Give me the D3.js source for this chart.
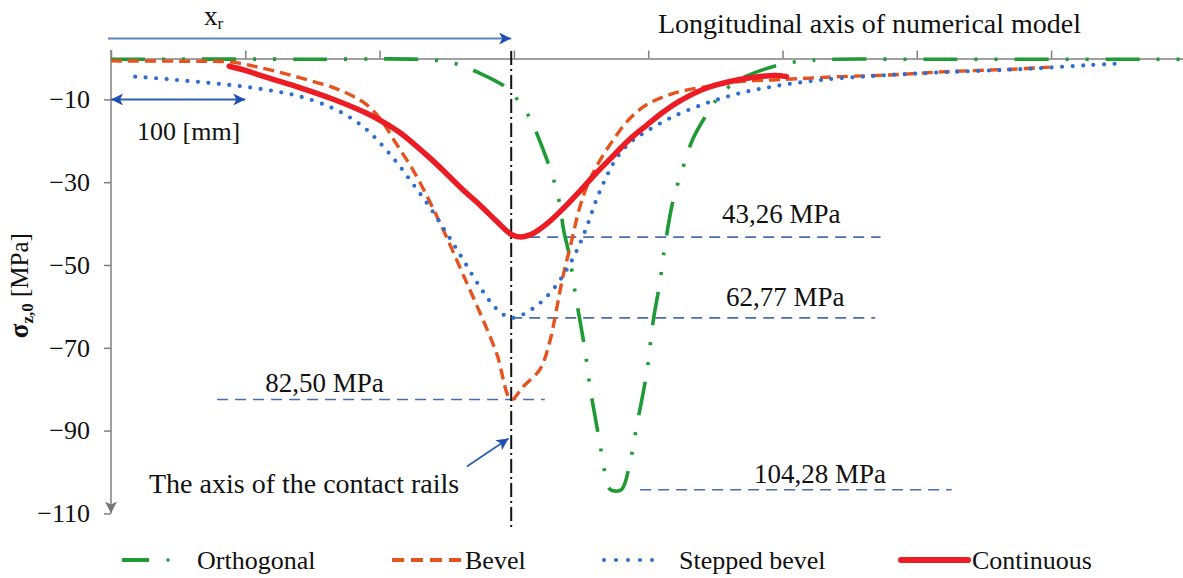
<!DOCTYPE html>
<html lang="en">
<head>
<meta charset="UTF-8">
<title>Stress along the longitudinal axis</title>
<script src="https://cdnjs.cloudflare.com/ajax/libs/d3/7.8.2/d3.min.js"></script>
<style>
    body { margin: 0; background: #fff; }
    svg { display: block; font-family: "Liberation Serif", "Times New Roman", serif; }
</style>
</head>
<body>
<div class="container"></div>
<script>
    // values: [position along the model in mm, stress in MPa]
    let orthogonal = [[0,-0.3],[150,-0.3],[240,-0.5],[258,-1.5],[272,-3.3],[295,-7.3],[304.5,-10.9],[312.4,-14.8],
        [318,-19],[326.8,-26.6],[331.1,-31.1],[334.3,-35.5],[337,-41.5],[341.5,-48],[346,-57.5],[352.9,-70.5],
        [356.6,-79.4],[361,-87.6],[365,-95],[368.5,-101.2],[372,-104.28],[380,-104.28],[386.3,-97.9],[391.3,-89.1],
        [398.8,-76.2],[403.7,-63.5],[408.6,-54.4],[412.4,-45.5],[418.6,-34.3],[424.9,-27.5],[433.5,-19.4],
        [447.2,-11.8],[454.7,-8.5],[466,-5.6],[478.1,-3.7],[503,-1.3],[530,-0.4],[600,-0.3],[800,-0.3]];

    let bevel = [[0,-0.7],[60,-0.8],[90,-1],[116,-2.7],[141,-4.8],[165,-7.1],[180,-9.2],[190,-11.2],[200,-14.5],
        [212,-20.5],[224.8,-27],[237.5,-34.8],[249.9,-43.3],[262,-52.2],[274.7,-61.5],[287.1,-71.3],[298,-82.5],
        [306.8,-79.4],[319.4,-75.2],[326.8,-68.4],[331.8,-60.6],[336.5,-52.8],[342,-45.5],[349.1,-36],[355,-30.5],
        [361.5,-26.2],[373.7,-19.9],[386.3,-14.6],[398.8,-11.3],[418.2,-8.6],[443.4,-6.9],[468.2,-5.7],[492.8,-5.3],
        [517.9,-4.9],[542.7,-4.5],[579.9,-4.1],[622,-3.3],[671.4,-2.7],[699,-2.2]];

    let steppedBevel = [[18,-4.5],[41.5,-5.1],[66,-5.8],[91,-6.6],[116,-7.7],[141,-9.3],[165,-12.1],[180,-14.8],
        [190,-17.2],[200,-20.4],[212.7,-25.2],[224.8,-30.4],[237.5,-36.1],[249.9,-42.3],[262,-48.6],[274.7,-55.3],
        [287.1,-60.6],[298,-62.77],[311.9,-61],[324.3,-57.7],[336.5,-52.6],[346.7,-46.6],[354.1,-40.9],[361.5,-34.2],
        [369,-28.6],[376.4,-24.2],[386.3,-20.5],[398.8,-17.7],[418.4,-14.2],[443.4,-10.9],[468.2,-8.5],[492.8,-6.9],
        [517.9,-5.7],[542.7,-4.9],[579.9,-4.1],[622,-3.4],[671.4,-2.8],[699,-2.3],[728.8,-1.7],[753.3,-1.3]];

    let continuous = [[88,-2],[100,-3],[116,-4.7],[141,-7.2],[165,-9.9],[190,-13.3],[205,-15.9],[215,-18],
        [225,-20.6],[238,-24.3],[250,-28],[262,-31.8],[275,-35.6],[287,-39.4],[298,-42.6],[305,-43.26],[313,-42.6],
        [324,-40.2],[336,-36.6],[349,-32.2],[361,-27.9],[374,-23.6],[386,-19.7],[399,-16.2],[411,-13.1],[424,-10.3],
        [443,-7.3],[468,-5.2],[485,-4.4],[495,-4.2],[503,-4.5]];

    let seriesNames = ['Orthogonal', 'Bevel', 'Stepped bevel', 'Continuous'];
    let yTicks = [-10, -30, -50, -70, -90, -110];
    let xTicks = [0, 100, 200, 300, 400, 500, 600, 700];

    // minimum markers: value, where the dashed line starts and ends (mm)
    let peakLabels = ['43,26 MPa', '62,77 MPa', '82,50 MPa', '104,28 MPa'];
    let peakValues = [-43.26, -62.77, -82.50, -104.28];
    let peakFrom = [298, 298, 79, 394];
    let peakTo = [573, 569, 323, 626];

    let railAxis = 298;

    let width = 1183;
    let height = 578;
    let font = '"Liberation Serif", "Times New Roman", serif';

    let styles = [
        {color: '#1f9b35', width: 3.6, dash: '34,17,3,17,3,17', cap: 'butt'},
        {color: '#e5531f', width: 3.4, dash: '11,6', cap: 'butt'},
        {color: '#2e6ed3', width: 4.2, dash: '0,10.5', cap: 'round'},
        {color: '#ec1c24', width: 5.5, dash: null, cap: 'round'}
    ];

    let svg = d3.select('.container').append('svg')
        .attr('width', width).attr('height', height);

    let xScale = d3.scaleLinear().domain([0, 800]).range([111, 1185.4]);
    let yScale = d3.scaleLinear().domain([0, -110]).range([58, 513.4]);

    let defs = svg.append('defs');
    const arrowMarker = (id, color, w, h) => {
        defs.append('marker').attr('id', id)
            .attr('viewBox', '0 0 10 10').attr('refX', 10).attr('refY', 5)
            .attr('markerWidth', w).attr('markerHeight', h)
            .attr('markerUnits', 'userSpaceOnUse')
            .attr('orient', 'auto-start-reverse')
            .append('path').attr('d', 'M0,0 L10,5 L0,10 L2.5,5 Z').attr('fill', color);
    };
    arrowMarker('blueArrow', '#1f4fb0', 16, 12);
    arrowMarker('greyArrow', '#777', 12, 12);

    // top axis (longitudinal axis of the model), ticks pointing up
    let xAxis = d3.axisTop(xScale).tickValues(xTicks).tickSize(8).tickSizeOuter(0).tickFormat('');
    let gx = svg.append('g').attr('transform', `translate(0,${yScale(0) + 0.5})`).call(xAxis);
    gx.selectAll('path, line').attr('stroke', '#808080').attr('stroke-width', 1.5);

    // left axis
    let yAxis = d3.axisLeft(yScale).tickValues(yTicks).tickSize(7).tickPadding(14);
    let gy = svg.append('g').attr('transform', `translate(${xScale(0)},0)`).call(yAxis);
    gy.select('.domain').remove();
    gy.selectAll('line').attr('stroke', '#808080').attr('stroke-width', 1.5);
    gy.selectAll('text').attr('font-family', font).attr('font-size', 26).attr('fill', '#111');
    svg.append('line')
        .attr('x1', xScale(0)).attr('x2', xScale(0))
        .attr('y1', yScale(0) - 8).attr('y2', yScale(-110))
        .attr('stroke', '#808080').attr('stroke-width', 1.5)
        .attr('marker-end', 'url(#greyArrow)');

    // y label
    let yLabel = svg.append('text')
        .attr('transform', `translate(28,${(yScale(-40) + yScale(-70)) / 2}) rotate(-90)`)
        .attr('text-anchor', 'middle').attr('font-family', font).attr('fill', '#111');
    yLabel.append('tspan').text('σ').attr('font-size', 27).attr('font-weight', 'bold');
    yLabel.append('tspan').text('z,0').attr('font-size', 17).attr('font-weight', 'bold').attr('dy', 5);
    yLabel.append('tspan').text(' [MPa]').attr('font-size', 25).attr('dy', -5);

    // dashed peak lines
    peakValues.forEach((v, i) => {
        svg.append('line')
            .attr('x1', xScale(peakFrom[i])).attr('x2', xScale(peakTo[i]))
            .attr('y1', yScale(v)).attr('y2', yScale(v))
            .attr('stroke', '#4a6db0').attr('stroke-width', 1.6)
            .attr('stroke-dasharray', '11,7');
    });

    // axis of the contact rails
    svg.append('line')
        .attr('x1', xScale(railAxis)).attr('x2', xScale(railAxis))
        .attr('y1', yScale(0) - 7).attr('y2', yScale(-113.5))
        .attr('stroke', '#111').attr('stroke-width', 2)
        .attr('stroke-dasharray', '14,4,2,4');

    // curves
    let line = d3.line()
        .x(d => xScale(d[0]))
        .y(d => yScale(d[1]))
        .curve(d3.curveCatmullRom.alpha(0.5));

    [orthogonal, bevel, steppedBevel, continuous].forEach((data, i) => {
        let s = styles[i];
        svg.append('path')
            .datum(data)
            .attr('d', line)
            .attr('fill', 'none')
            .attr('stroke', s.color)
            .attr('stroke-width', s.width)
            .attr('stroke-linecap', s.cap)
            .attr('stroke-linejoin', 'round')
            .attr('stroke-dasharray', s.dash);
    });

    // peak labels
    let labelPos = [[499, -39.9], [502, -59.9], [159, -80.7], [528, -102.6]];
    peakLabels.forEach((t, i) => {
        svg.append('text')
            .attr('x', xScale(labelPos[i][0])).attr('y', yScale(labelPos[i][1]))
            .attr('text-anchor', 'middle')
            .attr('font-family', font).attr('font-size', 27).attr('fill', '#111')
            .text(t);
    });

    // x_r arrow and label
    svg.append('line')
        .attr('x1', xScale(0) - 3).attr('x2', xScale(railAxis))
        .attr('y1', 38.5).attr('y2', 38.5)
        .attr('stroke', '#5b86c0').attr('stroke-width', 2)
        .attr('marker-end', 'url(#blueArrow)');
    let xr = svg.append('text').attr('x', 204).attr('y', 25)
        .attr('font-family', font).attr('fill', '#111');
    xr.append('tspan').text('x').attr('font-size', 27);
    xr.append('tspan').text('r').attr('font-size', 17).attr('dy', 4);

    svg.append('text').attr('x', 658).attr('y', 33)
        .attr('font-family', font).attr('font-size', 28).attr('fill', '#111')
        .text('Longitudinal axis of numerical model');

    // 100 mm scale arrow
    svg.append('line')
        .attr('x1', xScale(0)).attr('x2', xScale(100))
        .attr('y1', yScale(-10)).attr('y2', yScale(-10))
        .attr('stroke', '#2f5fb0').attr('stroke-width', 2)
        .attr('marker-start', 'url(#blueArrow)')
        .attr('marker-end', 'url(#blueArrow)');
    svg.append('text').attr('x', 137).attr('y', 140)
        .attr('font-family', font).attr('font-size', 26).attr('fill', '#111')
        .text('100 [mm]');

    // pointer to the rail axis
    svg.append('line')
        .attr('x1', xScale(265)).attr('y1', yScale(-98.7))
        .attr('x2', xScale(railAxis - 2)).attr('y2', yScale(-91.9))
        .attr('stroke', '#2f5fb0').attr('stroke-width', 1.8)
        .attr('marker-end', 'url(#blueArrow)');
    svg.append('text').attr('x', 149).attr('y', 493)
        .attr('font-family', font).attr('font-size', 28).attr('fill', '#111')
        .text('The axis of the contact rails');

    // legend
    let legendY = 560;
    let legendX = [122, 392, 604, 901];
    let legendTextX = [197, 465, 679, 972];
    let lg = svg.append('g');
    // orthogonal: dash then dot
    lg.append('line').attr('x1', legendX[0]).attr('x2', legendX[0] + 27)
        .attr('y1', legendY).attr('y2', legendY)
        .attr('stroke', styles[0].color).attr('stroke-width', 4);
    lg.append('circle').attr('cx', legendX[0] + 46).attr('cy', legendY).attr('r', 1.8)
        .attr('fill', styles[0].color);
    lg.append('line').attr('x1', legendX[1]).attr('x2', legendX[1] + 69)
        .attr('y1', legendY).attr('y2', legendY)
        .attr('stroke', styles[1].color).attr('stroke-width', 4)
        .attr('stroke-dasharray', '12,7');
    lg.append('line').attr('x1', legendX[2]).attr('x2', legendX[2] + 60)
        .attr('y1', legendY).attr('y2', legendY)
        .attr('stroke', styles[2].color).attr('stroke-width', 4)
        .attr('stroke-linecap', 'round').attr('stroke-dasharray', '0,12');
    lg.append('line').attr('x1', legendX[3]).attr('x2', legendX[3] + 67)
        .attr('y1', legendY).attr('y2', legendY)
        .attr('stroke', styles[3].color).attr('stroke-width', 6)
        .attr('stroke-linecap', 'round');
    seriesNames.forEach((n, i) => {
        lg.append('text').attr('x', legendTextX[i]).attr('y', legendY + 9)
            .attr('font-family', font).attr('font-size', 26).attr('fill', '#111')
            .text(n);
    });
</script>
</body>
</html>
